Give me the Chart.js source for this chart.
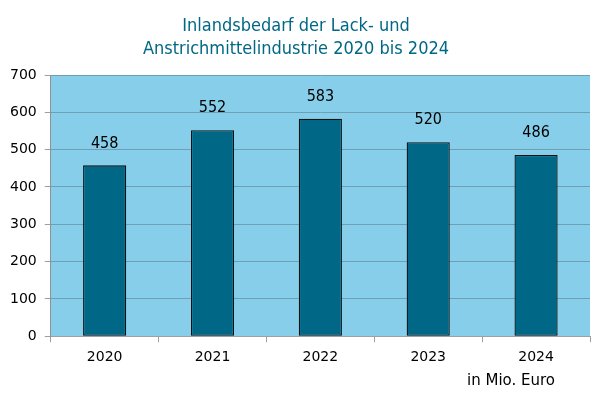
<!DOCTYPE html>
<html>
<head>
<meta charset="utf-8">
<script src="https://cdn.jsdelivr.net/npm/chart.js@4"></script>
<style>
  html, body { margin: 0; padding: 0; background: #fff; }
  #wrap { width: 600px; height: 399px; }
</style>
</head>
<body>
<div id="wrap"><canvas id="chart" width="600" height="399"></canvas></div>
<script>
const years = ["2020", "2021", "2022", "2023", "2024"];
const bedarf = [458, 552, 583, 520, 486];
const titleLines = ["Inlandsbedarf der Lack- und", "Anstrichmittelindustrie 2020 bis 2024"];
const unitLabel = "in Mio. Euro";

// Hintergrund der Zeichenfläche
const plotBg = {
    id: "plotBg",
    beforeDraw(chart) {
        const { ctx, chartArea: a } = chart;
        ctx.save();
        ctx.fillStyle = "#87ceeb";
        ctx.fillRect(a.left, a.top, a.right - a.left, a.bottom - a.top);
        ctx.restore();
    }
};

// Werte über den Balken + Einheit unten rechts
const valueLabels = {
    id: "valueLabels",
    afterDatasetsDraw(chart) {
        const { ctx } = chart;
        const meta = chart.getDatasetMeta(0);
        ctx.save();
        ctx.font = "16px 'DejaVu Sans Condensed', 'DejaVu Sans'";
        ctx.fillStyle = "#000";
        ctx.textAlign = "center";
        ctx.textBaseline = "bottom";
        meta.data.forEach((bar, i) => {
            ctx.fillText(bedarf[i], bar.x, bar.y - 14);
        });
        ctx.font = "15px 'DejaVu Sans'";
        ctx.textAlign = "right";
        ctx.textBaseline = "middle";
        ctx.fillText(unitLabel, 555, 381);
        ctx.restore();
    }
};

new Chart(document.getElementById("chart"), {
    type: "bar",
    data: {
        labels: years,
        datasets: [{
            data: bedarf,
            backgroundColor: "#006886",
            borderColor: "#0b0f12",
            borderWidth: 1.3,
            borderSkipped: false,
            barPercentage: 0.8,
            categoryPercentage: 0.5
        }]
    },
    options: {
        responsive: false,
        animation: false,
        layout: { padding: { left: 2, right: 10, bottom: 26 } },
        plugins: {
            legend: { display: false },
            tooltip: { enabled: false },
            title: {
                display: true,
                text: titleLines,
                color: "#006886",
                font: { family: "'DejaVu Sans Condensed', 'DejaVu Sans'", size: 18, weight: "normal", lineHeight: 1.28 },
                padding: { top: 15, bottom: 14 }
            }
        },
        scales: {
            x: {
                grid: { display: true, drawOnChartArea: false, offset: true, color: "#a0a0a0", tickLength: 6 },
                border: { color: "#a0a0a0" },
                ticks: { color: "#000", font: { family: "'DejaVu Sans'", size: 14 }, padding: 7 }
            },
            y: {
                min: 0,
                max: 700,
                ticks: { stepSize: 100, color: "#000", font: { family: "'DejaVu Sans'", size: 14 }, padding: 8 },
                grid: { color: "#6f9fb4", tickColor: "#a0a0a0", tickLength: 6 },
                border: { color: "#909090" }
            }
        }
    },
    plugins: [plotBg, valueLabels]
});
</script>
</body>
</html>
